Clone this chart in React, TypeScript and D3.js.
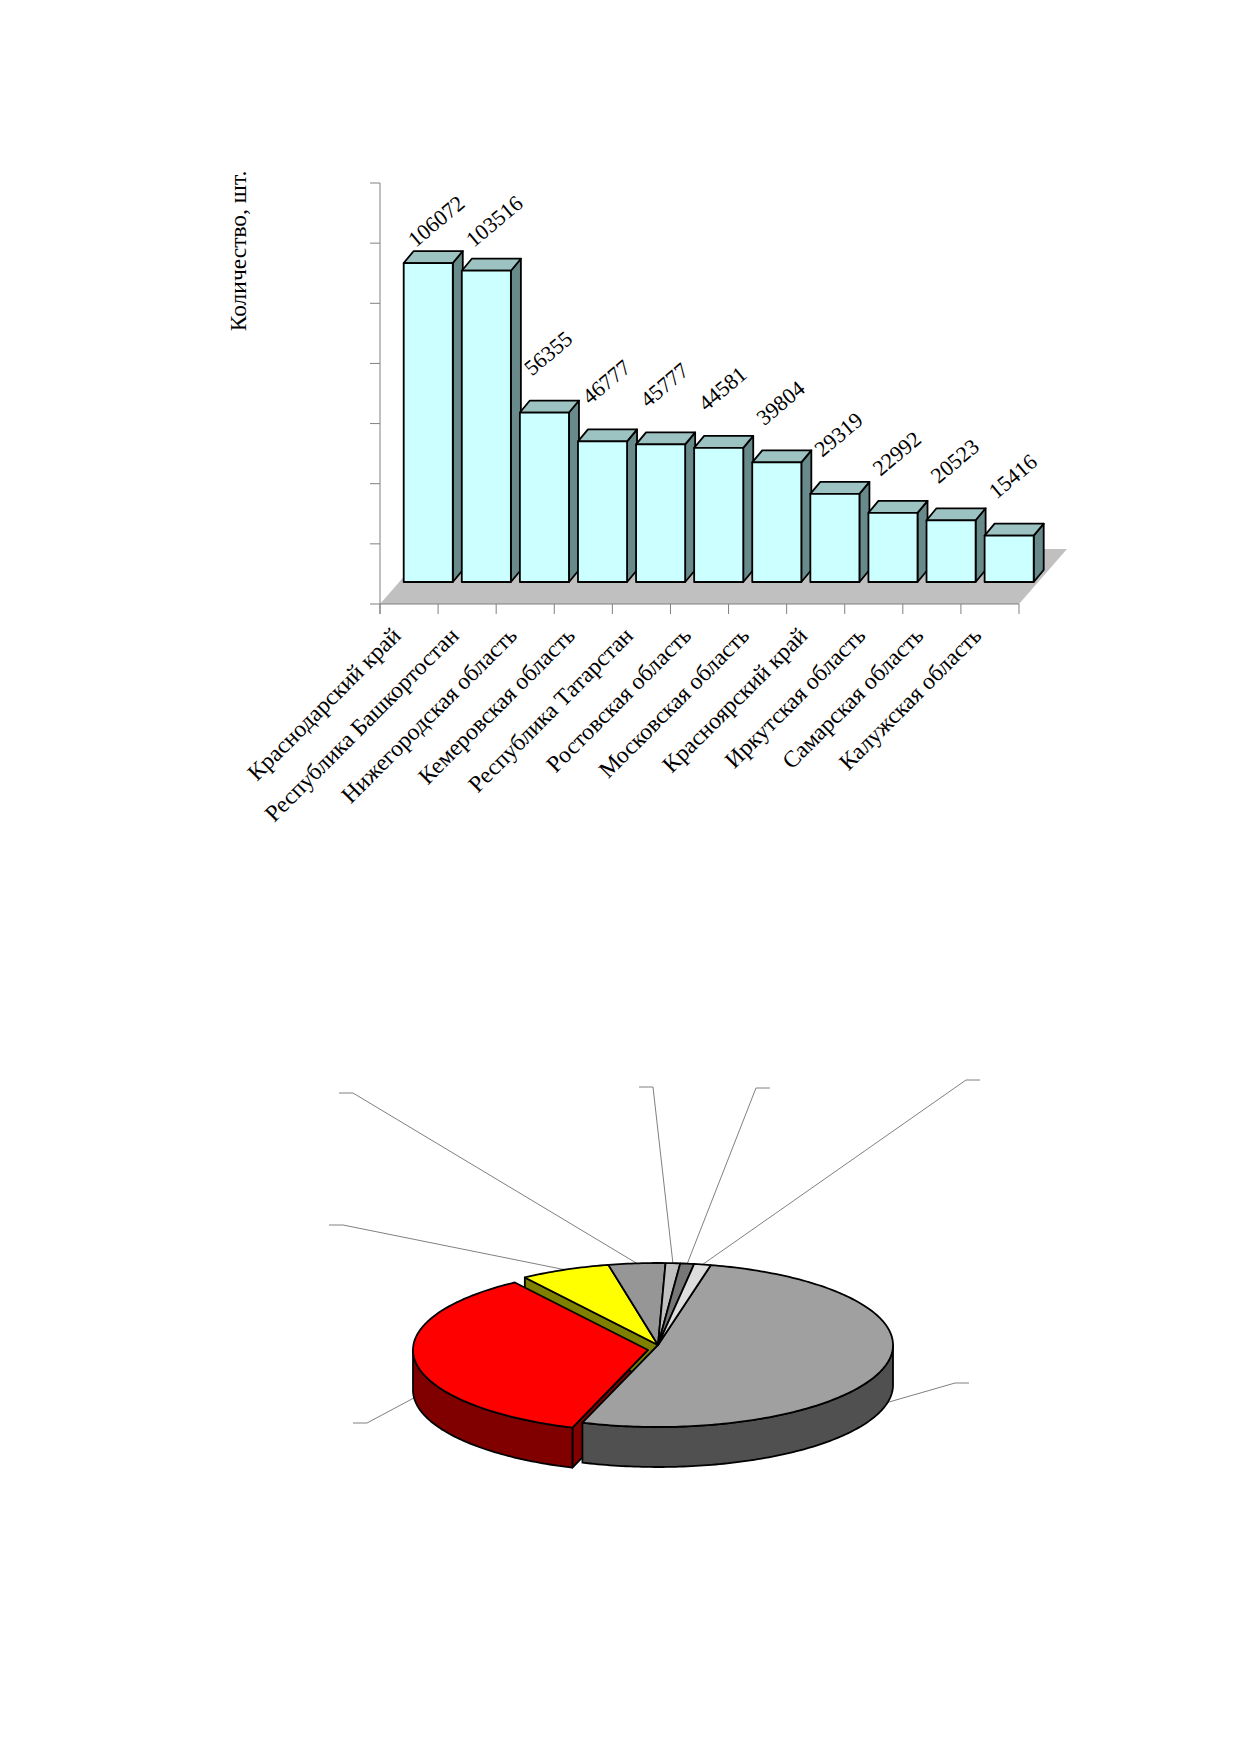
import React from 'react';
import * as d3 from 'd3';

// bar chart data
const regions = [
  'Краснодарский край',
  'Республика Башкортостан',
  'Нижегородская область',
  'Кемеровская область',
  'Республика Татарстан',
  'Ростовская область',
  'Московская область',
  'Красноярский край',
  'Иркутская область',
  'Самарская область',
  'Калужская область',
];
const counts = [106072, 103516, 56355, 46777, 45777, 44581, 39804, 29319, 22992, 20523, 15416];
const valueTicks = [0, 20000, 40000, 60000, 80000, 100000, 120000, 140000];
const axisTitle = 'Количество, шт.';

// pie data (shares in %, clockwise from the big slice)
const pieShares = [51.6, 35.2, 6.2, 3.9, 1.0, 0.95, 1.15];
const pieTop = ['#A0A0A0', '#FF0000', '#FFFF00', '#969696', '#C0C0C0', '#777777', '#DDDDDD'];
const pieSide = ['#505050', '#800000', '#808000', '#4B4B4B', '#606060', '#3C3C3C', '#6E6E6E'];
// pulled-out slices: screen offset of each slice
const pieExplode: [number, number][] = [[0, 0], [-10, 5], [0, 0], [0, 0], [0, 0], [0, 0], [0, 0]];
// leader line elbows, relative to the pie centre, and direction of the short tail
const leaderElbows: [number, number, number][] = [
  [297, 38, 1],
  [-291, 78, -1],
  [-315, -120, -1],
  [-305, -252, -1],
  [-5, -258, -1],
  [98, -257, 1],
  [308, -265, 1],
];

const W = 1239;
const H = 1754;
const FONT = "'Liberation Serif', 'Times New Roman', serif";

// bar chart geometry
const plotLeft = 380;
const plotRight = 1019;
const floorY = 604;
const axisTop = 183;
const floorDx = 48;
const floorDy = 55;
const barShift = 0.4; // bars sit 40% into the floor depth
const barDx = 10;
const barDy = 12;

// pie geometry
const pieCx = 658;
const pieCy = 1345;
const pieRx = 235;
const pieRy = 82;
const pieDepth = 40;

const x = d3.scaleBand<string>()
  .domain(regions)
  .range([plotLeft, plotRight])
  .paddingInner(0.155)
  .paddingOuter(0.0775);

const y = d3.scaleLinear().domain([0, 140000]).range([floorY, axisTop]);

const line = d3.line<[number, number]>();

const BarChart = () => {
  const step = x.step();
  const bw = x.bandwidth();
  const sx = floorDx * barShift;
  const sy = floorDy * barShift;
  const floor: [number, number][] = [
    [plotLeft, floorY],
    [plotRight, floorY],
    [plotRight + floorDx, floorY - floorDy],
    [plotLeft + floorDx, floorY - floorDy],
  ];
  return (
    <g>
      <text
        transform={`translate(246,251) rotate(-90)`}
        textAnchor="middle"
        fontFamily={FONT}
        fontSize={23.5}
      >
        {axisTitle}
      </text>
      <path d={line(floor) + 'Z'} fill="#C0C0C0" stroke="none" />
      {/* value axis */}
      <line x1={plotLeft} x2={plotLeft} y1={axisTop} y2={floorY + 10} stroke="#808080" strokeWidth={1} />
      {valueTicks.map(t => (
        <line key={t} x1={plotLeft - 10} x2={plotLeft} y1={y(t)} y2={y(t)} stroke="#808080" strokeWidth={1} />
      ))}
      {/* category axis */}
      <line x1={plotLeft} x2={plotRight} y1={floorY} y2={floorY} stroke="#808080" strokeWidth={1} />
      {d3.range(regions.length + 1).map(i => (
        <line
          key={i}
          x1={plotLeft + i * step}
          x2={plotLeft + i * step}
          y1={floorY}
          y2={floorY + 10}
          stroke="#808080"
          strokeWidth={1}
        />
      ))}
      {regions.map((r, i) => {
        const x0 = (x(r) as number) + sx;
        const x1 = x0 + bw;
        const base = floorY - sy;
        const top = y(counts[i]) - sy;
        const front: [number, number][] = [[x0, base], [x1, base], [x1, top], [x0, top]];
        const lid: [number, number][] = [[x0, top], [x1, top], [x1 + barDx, top - barDy], [x0 + barDx, top - barDy]];
        const side: [number, number][] = [[x1, base], [x1 + barDx, base - barDy], [x1 + barDx, top - barDy], [x1, top]];
        const lx = x0 + 12;
        const ly = Math.max(top - 36, axisTop + 65);
        return (
          <g key={r} stroke="#000" strokeWidth={1.8} strokeLinejoin="round">
            <path d={line(side) + 'Z'} fill="#688A8A" />
            <path d={line(lid) + 'Z'} fill="#9CC2C2" />
            <path d={line(front) + 'Z'} fill="#CCFFFF" />
            <text
              transform={`translate(${lx},${ly}) rotate(-40)`}
              fontFamily={FONT}
              fontSize={22}
              stroke="none"
              fill="#000"
            >
              {counts[i]}
            </text>
          </g>
        );
      })}
      {regions.map(r => {
        const cx = (x(r) as number) + bw / 2 - 7;
        return (
          <text
            key={r}
            transform={`translate(${cx},637) rotate(-45)`}
            textAnchor="end"
            fontFamily={FONT}
            fontSize={23.5}
          >
            {r}
          </text>
        );
      })}
    </g>
  );
};

const PieChart = () => {
  const arcs = d3.pie<number>()
    .sort(null)
    .startAngle((13.0 * Math.PI) / 180)
    .endAngle((13.0 * Math.PI) / 180 + 2 * Math.PI)(pieShares);

  const offs = pieExplode;
  const n = arcs.length;
  const isOut = (i: number) => offs[i][0] !== 0 || offs[i][1] !== 0;

  const pt = (th: number, i: number, down = 0): [number, number] => [
    pieCx + offs[i][0] + pieRx * Math.sin(th),
    pieCy + offs[i][1] - pieRy * Math.cos(th) + down,
  ];
  const centre = (i: number, down = 0): [number, number] => [pieCx + offs[i][0], pieCy + offs[i][1] + down];

  const arcPts = (a0: number, a1: number, i: number, down = 0) => {
    const k = Math.max(2, Math.ceil(((a1 - a0) * 180) / Math.PI));
    return d3.range(k + 1).map(j => pt(a0 + ((a1 - a0) * j) / k, i, down));
  };

  const faces: { d: string; fill: string }[] = [];
  const walls: { d: string; fill: string }[] = [];
  const tops: { d: string; fill: string }[] = [];

  arcs.forEach((a, i) => {
    const a0 = a.startAngle;
    const a1 = a.endAngle;
    const prev = (i + n - 1) % n;
    const next = (i + 1) % n;
    // radial cut faces, only where a pulled-out slice opens a gap
    if (Math.sin(a0) < 0 && (isOut(i) || isOut(prev))) {
      faces.push({ d: line([centre(i), pt(a0, i), pt(a0, i, pieDepth), centre(i, pieDepth)]) + 'Z', fill: pieSide[i] });
    }
    if (Math.sin(a1) > 0 && (isOut(i) || isOut(next))) {
      faces.push({ d: line([centre(i), pt(a1, i), pt(a1, i, pieDepth), centre(i, pieDepth)]) + 'Z', fill: pieSide[i] });
    }
    // outer wall on the front half
    [[Math.PI / 2, (3 * Math.PI) / 2], [(5 * Math.PI) / 2, (7 * Math.PI) / 2]].forEach(([f0, f1]) => {
      const b0 = Math.max(a0, f0);
      const b1 = Math.min(a1, f1);
      if (b1 > b0) {
        const upper = arcPts(b0, b1, i);
        const lower = arcPts(b0, b1, i, pieDepth).reverse();
        walls.push({ d: line([...upper, ...lower]) + 'Z', fill: pieSide[i] });
      }
    });
    tops.push({ d: line([centre(i), ...arcPts(a0, a1, i)]) + 'Z', fill: pieTop[i] });
  });

  const leaders = arcs.map((a, i) => {
    const mid = (a.startAngle + a.endAngle) / 2;
    const start = pt(mid, i, Math.cos(mid) < 0 ? pieDepth * 0.9 : 0);
    const [ex, ey, dir] = leaderElbows[i];
    const elbow: [number, number] = [pieCx + ex, pieCy + ey];
    const tail: [number, number] = [elbow[0] + dir * 14, elbow[1]];
    return line([start, elbow, tail]) as string;
  });

  return (
    <g>
      {leaders.map((d, i) => (
        <path key={i} d={d} fill="none" stroke="#808080" strokeWidth={1} />
      ))}
      <g stroke="#000" strokeWidth={1.8} strokeLinejoin="round">
        {[...faces, ...walls, ...tops].map((p, i) => (
          <path key={i} d={p.d} fill={p.fill} />
        ))}
      </g>
    </g>
  );
};

const App = () => (
  <div style={{ position: 'absolute', left: 0, top: 0 }}>
    <svg width={W} height={H} viewBox={`0 0 ${W} ${H}`} style={{ display: 'block', background: '#fff' }}>
      <rect width={W} height={H} fill="#fff" />
      <BarChart />
      <PieChart />
    </svg>
  </div>
);

export default App;
